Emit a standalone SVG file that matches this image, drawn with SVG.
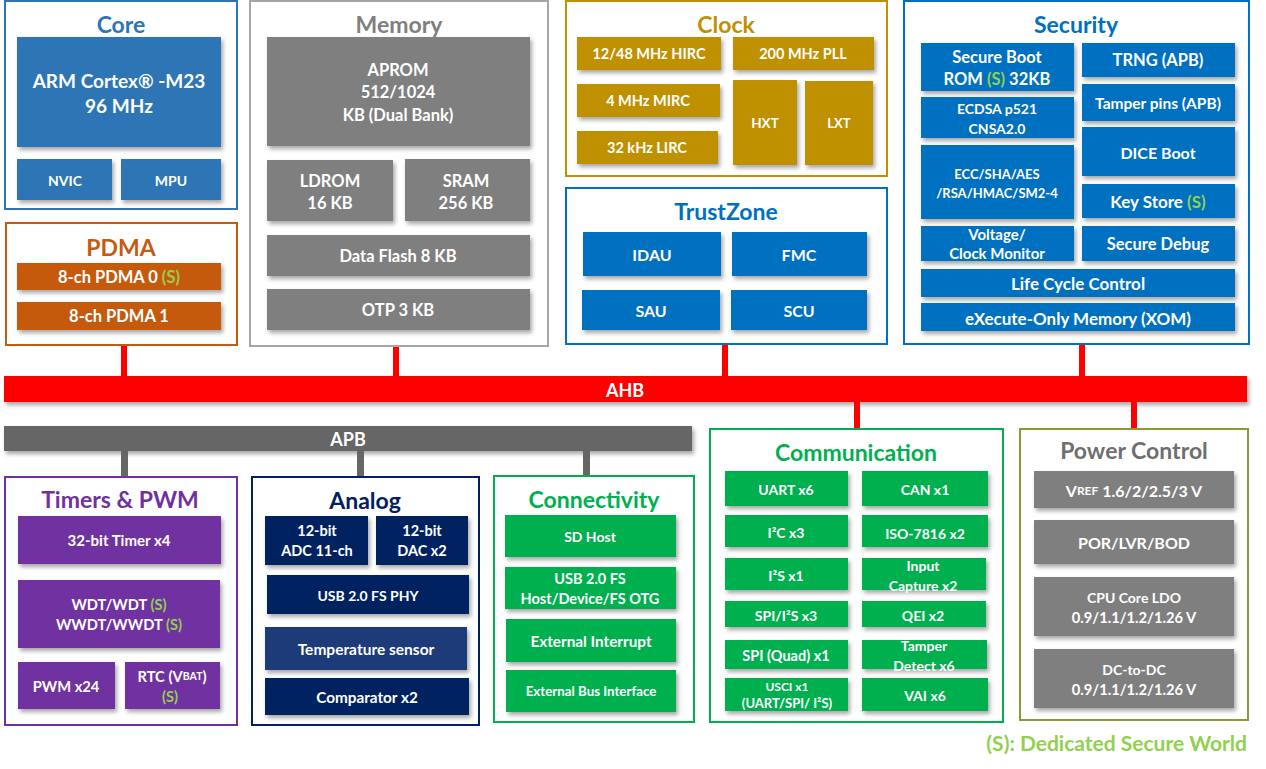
<svg xmlns="http://www.w3.org/2000/svg" width="1266" height="769" viewBox="0 0 1266 769">
<defs>
<filter id="sh" x="-10%" y="-10%" width="130%" height="140%"><feDropShadow dx="2" dy="3" stdDeviation="2" flood-color="#000" flood-opacity="0.35"/></filter>
<style>
text{font-family:Lato,"Open Sans","Liberation Sans",sans-serif;font-weight:bold;text-anchor:middle;dominant-baseline:central}
.w{fill:#fff}
.s{fill:#92D050}
.grp{fill:#fff;stroke-width:2}
.it{filter:url(#sh)}
.ttl{font-size:23px}
</style>
</defs>
<rect width="1266" height="769" fill="#fff"/>

<g id="connectors">
<rect x="4" y="376" width="1243" height="26" fill="#FF0000" filter="url(#sh)"/>
<text class="w" x="625" y="390" font-size="18">AHB</text>
<rect x="4" y="426" width="688" height="25" fill="#666666" filter="url(#sh)"/>
<text class="w" x="348" y="439" font-size="18">APB</text>
<g fill="#FF0000">
<rect x="121" y="345" width="6" height="31"/>
<rect x="393" y="346" width="6" height="30"/>
<rect x="722" y="344" width="6" height="32"/>
<rect x="1079" y="344" width="6" height="32"/>
<rect x="854" y="402" width="6" height="27"/>
<rect x="1131" y="402" width="6" height="27"/>
</g>
<g fill="#666666">
<rect x="121" y="451" width="7" height="26"/>
<rect x="357" y="451" width="7" height="26"/>
<rect x="583" y="451" width="7" height="26"/>
</g>
</g>

<g id="core">
<rect class="grp" x="5" y="1" width="232" height="208" stroke="#2E75B6"/>
<text class="ttl" x="121" y="24" fill="#2E75B6">Core</text>
<g class="it" fill="#2E75B6">
<rect x="17" y="37" width="204" height="110"/>
<rect x="17" y="159" width="95" height="41"/>
<rect x="121" y="159" width="100" height="41"/>
</g>
<text class="w" x="119" y="80" font-size="19">ARM Cortex® -M23</text>
<text class="w" x="119" y="105" font-size="19">96 MHz</text>
<text class="w" x="65" y="180" font-size="14">NVIC</text>
<text class="w" x="171" y="180" font-size="14">MPU</text>
</g>

<g id="pdma">
<rect class="grp" x="6" y="223" width="231" height="122" stroke="#C55A11"/>
<text class="ttl" x="121" y="247" fill="#C55A11" font-size="22">PDMA</text>
<g class="it" fill="#C55A11">
<rect x="17" y="263" width="204" height="27"/>
<rect x="17" y="302" width="204" height="28"/>
</g>
<text class="w" x="119" y="277" font-size="16.5">8-ch PDMA 0 <tspan class="s">(S)</tspan></text>
<text class="w" x="119" y="316" font-size="16.5">8-ch PDMA 1</text>
</g>

<g id="memory">
<rect class="grp" x="250" y="1" width="298" height="345" stroke="#A6A6A6"/>
<text class="ttl" x="399" y="24" fill="#7F7F7F">Memory</text>
<g class="it" fill="#7F7F7F">
<rect x="267" y="37" width="263" height="109"/>
<rect x="267" y="160" width="126" height="61"/>
<rect x="405" y="159" width="125" height="62"/>
<rect x="267" y="235" width="263" height="41"/>
<rect x="267" y="289" width="263" height="41"/>
</g>
<text class="w" x="398" y="70" font-size="16.5">APROM</text>
<text class="w" x="398" y="92" font-size="16.5">512/1024</text>
<text class="w" x="398" y="115" font-size="16.5">KB (Dual Bank)</text>
<text class="w" x="330" y="181" font-size="16.5">LDROM</text>
<text class="w" x="330" y="203" font-size="16.5">16 KB</text>
<text class="w" x="466" y="181" font-size="16.5">SRAM</text>
<text class="w" x="466" y="203" font-size="16.5">256 KB</text>
<text class="w" x="398" y="256" font-size="16.5">Data Flash 8 KB</text>
<text class="w" x="398" y="310" font-size="16.5">OTP 3 KB</text>
</g>

<g id="clock">
<rect class="grp" x="566" y="1" width="321" height="175" stroke="#BF9000"/>
<text class="ttl" x="726" y="24" fill="#BF9000">Clock</text>
<g class="it" fill="#BF9000">
<rect x="577" y="37" width="144" height="33"/>
<rect x="733" y="37" width="141" height="33"/>
<rect x="577" y="84" width="143" height="33"/>
<rect x="577" y="131" width="141" height="33"/>
<rect x="733" y="80" width="64" height="85"/>
<rect x="805" y="81" width="68" height="84"/>
</g>
<text class="w" x="649" y="53" font-size="14.5">12/48 MHz HIRC</text>
<text class="w" x="803" y="53" font-size="14.5">200 MHz PLL</text>
<text class="w" x="648" y="100" font-size="14.5">4 MHz MIRC</text>
<text class="w" x="647" y="147" font-size="14.5">32 kHz LIRC</text>
<text class="w" x="765" y="123" font-size="13.5">HXT</text>
<text class="w" x="839" y="123" font-size="13">LXT</text>
</g>

<g id="trustzone">
<rect class="grp" x="566" y="188" width="321" height="156" stroke="#0070C0"/>
<text class="ttl" x="726" y="211" fill="#0070C0">TrustZone</text>
<g class="it" fill="#0070C0">
<rect x="583" y="232" width="138" height="44"/>
<rect x="732" y="232" width="135" height="44"/>
<rect x="582" y="290" width="138" height="40"/>
<rect x="731" y="290" width="136" height="40"/>
</g>
<text class="w" x="652" y="254" font-size="16">IDAU</text>
<text class="w" x="799" y="254" font-size="16">FMC</text>
<text class="w" x="651" y="310" font-size="16">SAU</text>
<text class="w" x="799" y="310" font-size="16">SCU</text>
</g>

<g id="security">
<rect class="grp" x="904" y="1" width="345" height="343" stroke="#0070C0"/>
<text class="ttl" x="1076" y="24" fill="#0070C0">Security</text>
<g class="it" fill="#0070C0">
<rect x="921" y="43" width="153" height="48"/>
<rect x="1082" y="43" width="153" height="34"/>
<rect x="921" y="97" width="153" height="41"/>
<rect x="1082" y="84" width="153" height="37"/>
<rect x="921" y="145" width="153" height="74"/>
<rect x="1082" y="127" width="153" height="49"/>
<rect x="1082" y="184" width="153" height="34"/>
<rect x="921" y="226" width="153" height="35"/>
<rect x="1082" y="226" width="153" height="35"/>
<rect x="921" y="269" width="314" height="28"/>
<rect x="921" y="303" width="314" height="28"/>
</g>
<text class="w" x="997" y="57" font-size="16.5">Secure Boot</text>
<text class="w" x="997" y="79" font-size="16.5">ROM <tspan class="s">(S)</tspan> 32KB</text>
<text class="w" x="1158" y="60" font-size="16.5">TRNG (APB)</text>
<text class="w" x="997" y="108" font-size="14">ECDSA p521</text>
<text class="w" x="997" y="128" font-size="14">CNSA2.0</text>
<text class="w" x="1158" y="103" font-size="15.5">Tamper pins (APB)</text>
<text class="w" x="997" y="174" font-size="13">ECC/SHA/AES</text>
<text class="w" x="997" y="193" font-size="13">/RSA/HMAC/SM2-4</text>
<text class="w" x="1158" y="152" font-size="16">DICE Boot</text>
<text class="w" x="1158" y="201" font-size="17">Key Store <tspan class="s">(S)</tspan></text>
<text class="w" x="997" y="234" font-size="15">Voltage/</text>
<text class="w" x="997" y="253" font-size="15">Clock Monitor</text>
<text class="w" x="1158" y="244" font-size="16.5">Secure Debug</text>
<text class="w" x="1078" y="283" font-size="17">Life Cycle Control</text>
<text class="w" x="1078" y="318" font-size="17">eXecute-Only Memory (XOM)</text>
</g>

<g id="timers">
<rect class="grp" x="5" y="477" width="232" height="248" stroke="#7030A0"/>
<text class="ttl" x="120" y="499" fill="#7030A0">Timers &amp; PWM</text>
<g class="it" fill="#7030A0">
<rect x="18" y="516" width="203" height="48"/>
<rect x="18" y="580" width="202" height="68"/>
<rect x="18" y="662" width="97" height="47"/>
<rect x="125" y="662" width="95" height="47"/>
</g>
<text class="w" x="119" y="540" font-size="15">32-bit Timer x4</text>
<text class="w" x="119" y="604" font-size="14.7">WDT/WDT <tspan class="s">(S)</tspan></text>
<text class="w" x="119" y="624" font-size="14.7">WWDT/WWDT <tspan class="s">(S)</tspan></text>
<text class="w" x="66" y="686" font-size="14.7">PWM x24</text>
<text class="w" x="172" y="676" font-size="14.7">RTC (V<tspan font-size="10.5">BAT</tspan>)</text>
<text class="s" x="170" y="696" font-size="14.7">(S)</text>
</g>

<g id="analog">
<rect class="grp" x="252" y="477" width="227" height="248" stroke="#002060"/>
<text class="ttl" x="365" y="500" fill="#002060">Analog</text>
<g class="it" fill="#002060">
<rect x="265" y="516" width="103" height="49"/>
<rect x="376" y="516" width="92" height="49"/>
<rect x="267" y="575" width="202" height="39"/>
<rect x="265" y="627" width="202" height="43" fill="#1F3A78"/>
<rect x="265" y="678" width="204" height="37"/>
</g>
<text class="w" x="317" y="530" font-size="14.5">12-bit</text>
<text class="w" x="317" y="550" font-size="14.5">ADC 11-ch</text>
<text class="w" x="422" y="530" font-size="14.5">12-bit</text>
<text class="w" x="422" y="550" font-size="14.5">DAC x2</text>
<text class="w" x="368" y="595" font-size="14">USB 2.0 FS PHY</text>
<text class="w" x="366" y="649" font-size="15.5">Temperature sensor</text>
<text class="w" x="367" y="697" font-size="15.3">Comparator x2</text>
</g>

<g id="connectivity">
<rect class="grp" x="494" y="476" width="200" height="246" stroke="#00B050"/>
<text class="ttl" x="594" y="499" fill="#00B050">Connectivity</text>
<g class="it" fill="#00B050">
<rect x="505" y="515" width="171" height="42"/>
<rect x="505" y="567" width="171" height="42"/>
<rect x="506" y="619" width="170" height="43"/>
<rect x="506" y="670" width="170" height="42"/>
</g>
<text class="w" x="590" y="536" font-size="14">SD Host</text>
<text class="w" x="590" y="578" font-size="14.5">USB 2.0 FS</text>
<text class="w" x="590" y="598" font-size="14.5">Host/Device/FS OTG</text>
<text class="w" x="591" y="641" font-size="15.3">External Interrupt</text>
<text class="w" x="591" y="691" font-size="13.3">External Bus Interface</text>
</g>

<g id="communication">
<rect class="grp" x="710" y="429" width="293" height="293" stroke="#00B050"/>
<text class="ttl" x="856" y="452" fill="#00B050">Communication</text>
<g class="it" fill="#00B050">
<rect x="725" y="471" width="123" height="35"/>
<rect x="862" y="471" width="126" height="35"/>
<rect x="725" y="515" width="123" height="32"/>
<rect x="862" y="515" width="126" height="32"/>
<rect x="725" y="558" width="123" height="32"/>
<rect x="862" y="558" width="124" height="32"/>
<rect x="725" y="601" width="123" height="26"/>
<rect x="862" y="601" width="124" height="26"/>
<rect x="725" y="640" width="123" height="29"/>
<rect x="862" y="640" width="125" height="29"/>
<rect x="725" y="678" width="123" height="33"/>
<rect x="862" y="678" width="126" height="33"/>
</g>
<text class="w" x="786" y="489" font-size="14">UART x6</text>
<text class="w" x="925" y="489" font-size="14">CAN x1</text>
<text class="w" x="786" y="532" font-size="14">I²C x3</text>
<text class="w" x="925" y="533" font-size="14">ISO-7816 x2</text>
<text class="w" x="786" y="575" font-size="14">I²S x1</text>
<text class="w" x="923" y="565" font-size="14">Input</text>
<text class="w" x="923" y="585" font-size="14">Capture x2</text>
<text class="w" x="786" y="615" font-size="14">SPI/I²S x3</text>
<text class="w" x="923" y="615" font-size="14">QEI x2</text>
<text class="w" x="786" y="655" font-size="14.5">SPI (Quad) x1</text>
<text class="w" x="924" y="645" font-size="14">Tamper</text>
<text class="w" x="924" y="665" font-size="14">Detect x6</text>
<text class="w" x="787" y="686" font-size="12">USCI x1</text>
<text class="w" x="787" y="703" font-size="13">(UART/SPI/ I²S)</text>
<text class="w" x="925" y="695" font-size="14">VAI x6</text>
</g>

<g id="power">
<rect class="grp" x="1020" y="429" width="228" height="291" stroke="#8A9A33"/>
<text class="ttl" x="1134" y="450" fill="#6F6F6F" font-size="20">Power Control</text>
<g class="it" fill="#7F7F7F">
<rect x="1034" y="471" width="200" height="37"/>
<rect x="1034" y="520" width="200" height="44"/>
<rect x="1034" y="577" width="200" height="59"/>
<rect x="1034" y="649" width="200" height="59"/>
</g>
<text class="w" x="1134" y="490" font-size="16">V<tspan font-size="12">REF</tspan> 1.6/2/2.5/3 V</text>
<text class="w" x="1134" y="542" font-size="16">POR/LVR/BOD</text>
<text class="w" x="1134" y="597" font-size="14">CPU Core LDO</text>
<text class="w" x="1134" y="617" font-size="14.7">0.9/1.1/1.2/1.26 V</text>
<text class="w" x="1134" y="669" font-size="14">DC-to-DC</text>
<text class="w" x="1134" y="689" font-size="14.7">0.9/1.1/1.2/1.26 V</text>
</g>

<text class="s" x="1247" y="742" font-size="21" style="text-anchor:end">(S): Dedicated Secure World</text>
</svg>
